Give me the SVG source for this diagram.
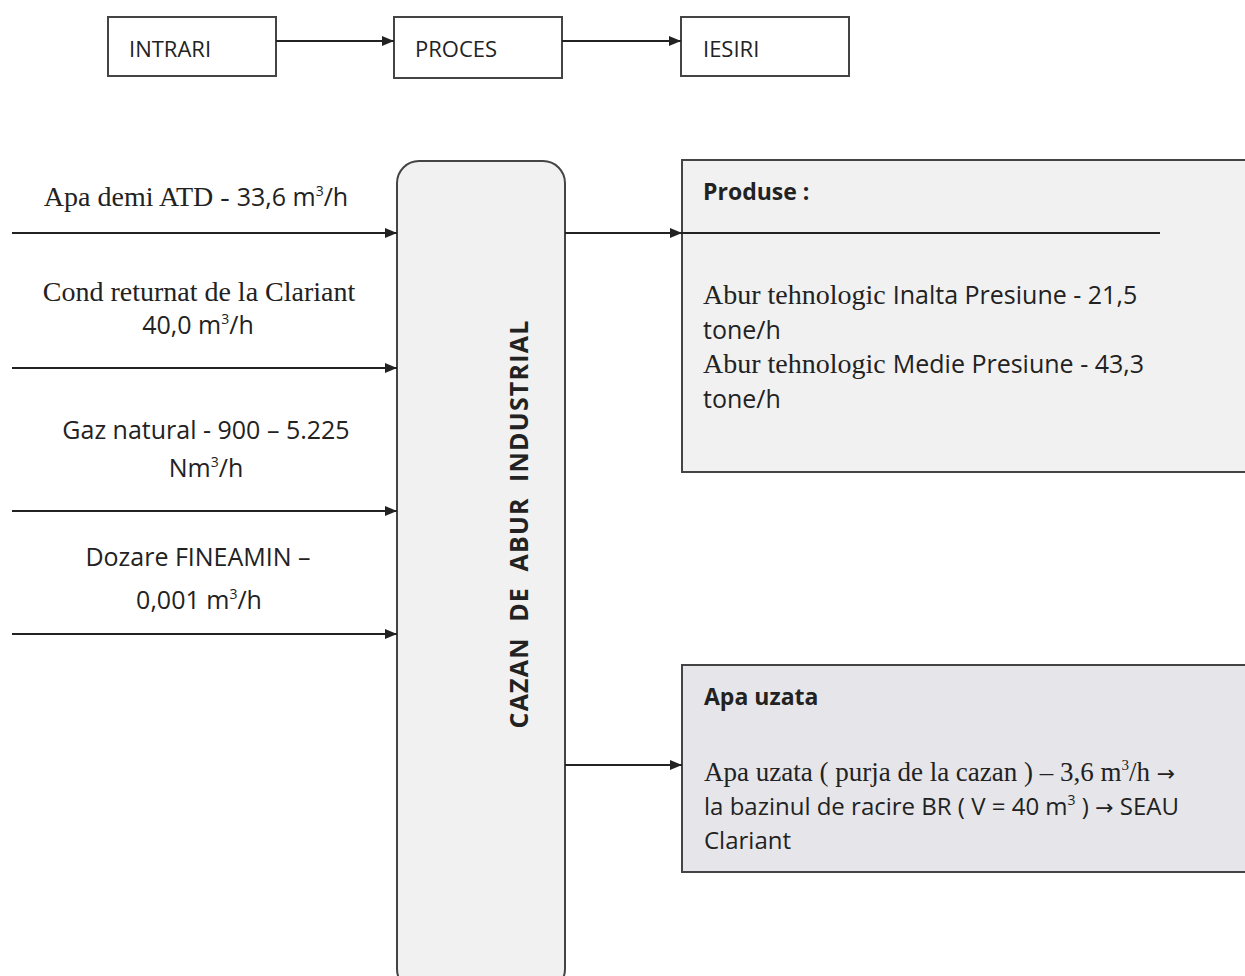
<svg xmlns="http://www.w3.org/2000/svg" width="1245" height="976" viewBox="0 0 1245 976">
<style>
.box{fill:#ffffff;stroke:#444;stroke-width:2}
.gbox{fill:#f1f1f1;stroke:#444;stroke-width:2}
.dbox{fill:#e6e6ea;stroke:#444;stroke-width:2}
.ln{stroke:#222;stroke-width:2;fill:none}
.sans{font-family:"Open Sans","Liberation Sans",sans-serif;fill:#222}
.serif{font-family:"Liberation Serif",serif;fill:#222}
.arr{font-family:"DejaVu Sans",sans-serif}
.b{font-weight:bold}
</style>
<defs>
<marker id="ah" markerWidth="12" markerHeight="10" refX="12" refY="5" orient="auto" markerUnits="userSpaceOnUse">
<path d="M0,0 L12,5 L0,10 Z" fill="#222"/>
</marker>
</defs>
<rect width="1245" height="976" fill="#ffffff"/>
<g id="intrari"><rect class="box" x="108" y="17" width="168" height="59"/><text class="sans" x="129" y="57" font-size="22">INTRARI</text></g>
<g id="proces"><rect class="box" x="394" y="17" width="168" height="61"/><text class="sans" x="415" y="57" font-size="22">PROCES</text></g>
<g id="iesiri"><rect class="box" x="681" y="17" width="168" height="59"/><text class="sans" x="703" y="57" font-size="22">IESIRI</text></g>
<g id="cazan"><rect class="gbox" x="397" y="161" width="168" height="830" rx="22"/>
<text class="sans b" transform="translate(528,524) rotate(-90)" text-anchor="middle" font-size="25" letter-spacing="1.2" style="white-space:pre">CAZAN  DE  ABUR  INDUSTRIAL</text></g>
<g id="produse"><rect class="gbox" x="682" y="160" width="580" height="312"/>
<text class="sans b" x="703" y="200" font-size="23">Produse :</text>
<text x="703" y="304" font-size="25"><tspan class="serif" font-size="28">Abur tehnologic </tspan><tspan class="sans">Inalta Presiune - 21,5</tspan></text>
<text class="sans" x="703" y="339" font-size="25">tone/h</text>
<text x="703" y="373" font-size="25"><tspan class="serif" font-size="28">Abur tehnologic </tspan><tspan class="sans">Medie Presiune - 43,3</tspan></text>
<text class="sans" x="703" y="408" font-size="25">tone/h</text>
</g>
<g id="apa-uzata"><rect class="dbox" x="682" y="665" width="580" height="207"/>
<text class="sans b" x="704" y="705" font-size="23">Apa uzata</text>
<text class="serif" x="704" y="781" font-size="27">Apa uzata ( purja de la cazan ) – 3,6 m<tspan font-size="15" dy="-11">3</tspan><tspan dy="11">/h </tspan><tspan class="arr" font-size="22">→</tspan></text>
<text class="sans" x="704" y="815" font-size="24">la bazinul de racire BR ( V = 40 m<tspan font-size="14" dy="-10">3</tspan><tspan dy="10"> ) </tspan><tspan class="arr" font-size="22">→</tspan><tspan> SEAU</tspan></text>
<text class="sans" x="704" y="849" font-size="24">Clariant</text>
</g>
<g id="labels">
<text x="196" y="206" font-size="25" text-anchor="middle"><tspan class="serif" font-size="28">Apa demi ATD - </tspan><tspan class="sans">33,6 m</tspan><tspan class="sans" font-size="14" dy="-10">3</tspan><tspan class="sans" dy="10">/h</tspan></text>
<text class="serif" x="199" y="301" font-size="28" text-anchor="middle">Cond returnat de la Clariant</text>
<text class="sans" x="198" y="334" font-size="25" text-anchor="middle">40,0 m<tspan font-size="14" dy="-10">3</tspan><tspan dy="10">/h</tspan></text>
<text class="sans" x="206" y="439" font-size="25" text-anchor="middle">Gaz natural - 900 – 5.225</text>
<text class="sans" x="206" y="477" font-size="25" text-anchor="middle">Nm<tspan font-size="14" dy="-10">3</tspan><tspan dy="10">/h</tspan></text>
<text class="sans" x="198" y="566" font-size="25" text-anchor="middle">Dozare FINEAMIN –</text>
<text class="sans" x="199" y="609" font-size="25" text-anchor="middle">0,001 m<tspan font-size="14" dy="-10">3</tspan><tspan dy="10">/h</tspan></text>
</g>
<g id="connectors">
<line class="ln" x1="276" y1="41" x2="394" y2="41" marker-end="url(#ah)"/>
<line class="ln" x1="562" y1="41" x2="681" y2="41" marker-end="url(#ah)"/>
<line class="ln" x1="12" y1="233" x2="397" y2="233" marker-end="url(#ah)"/>
<line class="ln" x1="12" y1="368" x2="397" y2="368" marker-end="url(#ah)"/>
<line class="ln" x1="12" y1="511" x2="397" y2="511" marker-end="url(#ah)"/>
<line class="ln" x1="12" y1="634" x2="397" y2="634" marker-end="url(#ah)"/>
<line class="ln" x1="565" y1="233" x2="682" y2="233" marker-end="url(#ah)"/>
<line class="ln" x1="682" y1="233" x2="1160" y2="233"/>
<line class="ln" x1="565" y1="765" x2="682" y2="765" marker-end="url(#ah)"/>
</g>
</svg>
